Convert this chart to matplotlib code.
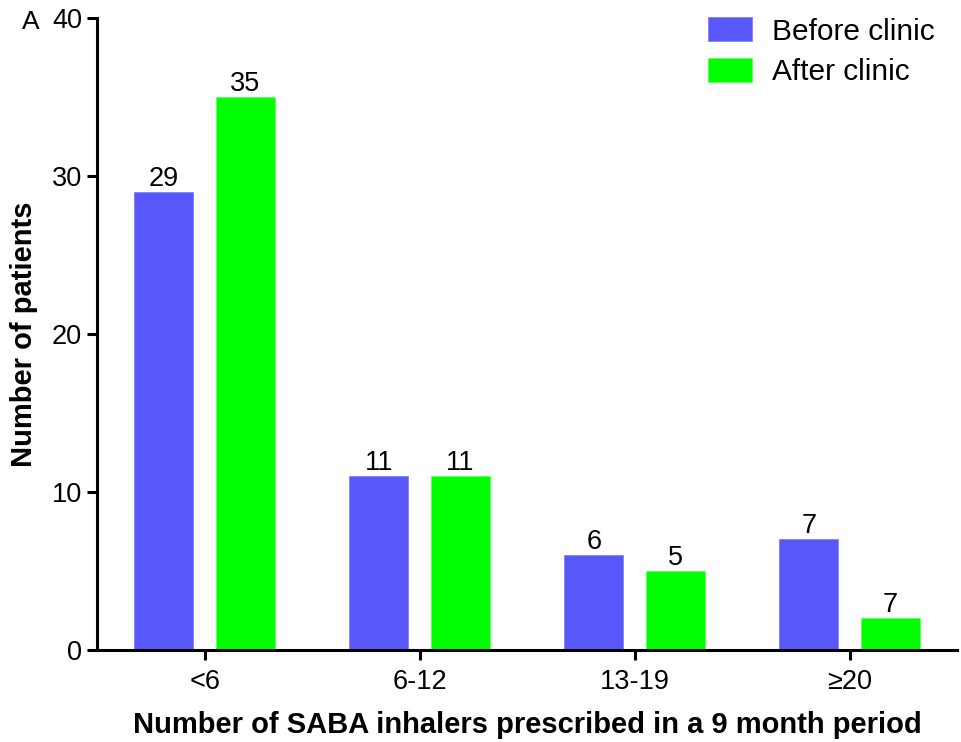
import numpy as np
import matplotlib.pyplot as plt

plt.rcParams['font.family'] = ['Liberation Sans', 'DejaVu Sans']

categories = ["<6", "6-12", "13-19", "\u226520"]
before = [29, 11, 6, 7]
after = [35, 11, 5, 2]
before_labels = ["29", "11", "6", "7"]
after_labels = ["35", "11", "5", "7"]

blue = "#5858fa"
green = "#00ff00"

fig = plt.figure(figsize=(9.62, 7.42), dpi=100)
ax = fig.add_axes([0.101, 0.124, 0.894, 0.852])

x = np.arange(len(categories))
w = 0.273
off = 0.19
b1 = ax.bar(x - off, before, w, color=blue, edgecolor="#8080ff", lw=0.6,
            label="Before clinic")
b2 = ax.bar(x + off, after, w, color=green, edgecolor="#60ff60", lw=0.6,
            label="After clinic")
ax.bar_label(b1, labels=before_labels, padding=0, fontsize=19.5)
ax.bar_label(b2, labels=after_labels, padding=0, fontsize=19.5)

ax.set_xlim(-0.5, 3.5)
ax.set_ylim(0, 40)
ax.set_yticks([0, 10, 20, 30, 40])
ax.set_xticks(x)
ax.set_xticklabels(categories)
for s in ["top", "right"]:
    ax.spines[s].set_visible(False)
for s in ["left", "bottom"]:
    ax.spines[s].set_linewidth(2.2)
ax.tick_params(axis="both", width=2.2, length=7, labelsize=19.5, pad=4)
ax.tick_params(axis="x", pad=7)

ax.set_ylabel("Number of patients", fontsize=21, fontweight="bold", labelpad=10)
ax.set_xlabel("Number of SABA inhalers prescribed in a 9 month period",
              fontsize=21, fontweight="bold", labelpad=11)

leg = ax.legend(loc="upper right", bbox_to_anchor=(1.005, 1.043), frameon=False,
                fontsize=21.5, handlelength=1.47, handleheight=0.85,
                handletextpad=0.67, labelspacing=0.4)

fig.text(0.023, 0.97, "A", fontsize=19, va="center")

fig.savefig("out.png", dpi=100)
